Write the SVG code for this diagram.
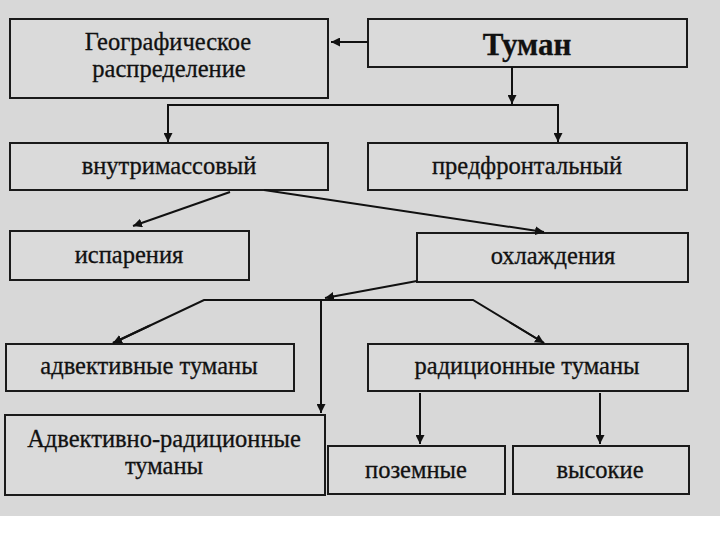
<svg xmlns="http://www.w3.org/2000/svg" width="720" height="540" viewBox="0 0 720 540">
<style>
.box{fill:#dadada;stroke:#1a1a1a;stroke-width:2}
.t{font-family:"Liberation Serif","Times New Roman",serif;font-size:24.5px;fill:#111;stroke:#111;stroke-width:0.3;text-anchor:middle}
.b{font-weight:bold;font-size:31px}
.c{fill:none;stroke:#111;stroke-width:2}
</style>
<defs>
<marker id="ar" viewBox="0 0 10 10" refX="10" refY="5" markerWidth="9" markerHeight="9" markerUnits="userSpaceOnUse" orient="auto">
<path d="M0,0 L10,5 L0,10 z" fill="#111"/>
</marker>
</defs>
<rect x="0" y="0" width="720" height="516" fill="#d8d8d8"/>
<rect x="0" y="516" width="720" height="24" fill="#ffffff"/>
<g id="geo"><rect class="box" x="10" y="19" width="318" height="79"/><text class="t" x="168" y="50">Географическое</text><text class="t" x="169" y="77">распределение</text></g>
<g id="tuman"><rect class="box" x="368" y="19" width="319" height="48"/><text class="t b" x="527" y="55">Туман</text></g>
<g id="vnutri"><rect class="box" x="10" y="143" width="318" height="47"/><text class="t" x="169" y="174">внутримассовый</text></g>
<g id="predfront"><rect class="box" x="368" y="143" width="319" height="47"/><text class="t" x="527" y="174">предфронтальный</text></g>
<g id="ispar"><rect class="box" x="10" y="231" width="239" height="49"/><text class="t" x="129" y="263">испарения</text></g>
<g id="ohlazh"><rect class="box" x="417" y="233" width="271" height="49"/><text class="t" x="553" y="264">охлаждения</text></g>
<g id="advekt"><rect class="box" x="6" y="344" width="288" height="47"/><text class="t" x="149" y="374">адвективные туманы</text></g>
<g id="radic"><rect class="box" x="368" y="344" width="320" height="47"/><text class="t" x="527" y="374">радиционные туманы</text></g>
<g id="advrad"><rect class="box" x="5" y="415" width="320" height="80"/><text class="t" x="164" y="447">Адвективно-радиционные</text><text class="t" x="164" y="474">туманы</text></g>
<g id="pozem"><rect class="box" x="328" y="446" width="177" height="48"/><text class="t" x="416" y="478">поземные</text></g>
<g id="vysok"><rect class="box" x="513" y="446" width="176" height="48"/><text class="t" x="600" y="478">высокие</text></g>
<g id="connectors">
<line class="c" x1="368" y1="42" x2="331" y2="42" marker-end="url(#ar)"/>
<line class="c" x1="512" y1="67" x2="512" y2="104" marker-end="url(#ar)"/>
<polyline class="c" points="168,142 168,105 558,105 558,142"/>
<line class="c" x1="168" y1="120" x2="168" y2="142" marker-end="url(#ar)"/>
<line class="c" x1="558" y1="120" x2="558" y2="142" marker-end="url(#ar)"/>
<line class="c" x1="230" y1="192" x2="133" y2="226" marker-end="url(#ar)"/>
<line class="c" x1="264" y1="190" x2="544" y2="232" marker-end="url(#ar)"/>
<line class="c" x1="417" y1="281" x2="325" y2="298" marker-end="url(#ar)"/>
<polyline class="c" points="113,343 204,300 473,300 544,343"/>
<line class="c" x1="150" y1="325.5" x2="113" y2="343" marker-end="url(#ar)"/>
<line class="c" x1="510" y1="322.5" x2="544" y2="343" marker-end="url(#ar)"/>
<line class="c" x1="321" y1="300" x2="321" y2="413" marker-end="url(#ar)"/>
<line class="c" x1="420" y1="393" x2="420" y2="444" marker-end="url(#ar)"/>
<line class="c" x1="600" y1="393" x2="600" y2="444" marker-end="url(#ar)"/>
</g>
</svg>
